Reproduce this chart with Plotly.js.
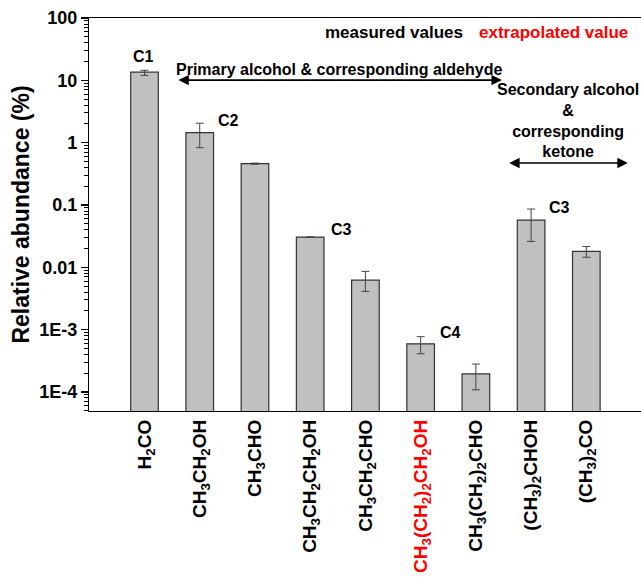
<!DOCTYPE html>
<html>
<head>
<meta charset="utf-8">
<script src="https://cdn.plot.ly/plotly-3.0.1.min.js"></script>
<style>html,body{margin:0;padding:0;background:#fff;}#chart{width:641px;height:582px;}</style>
</head>
<body>
<div id="chart"></div>
<script>
// ---- data ----
const categories = [
  'H<sub>2</sub>CO',
  'CH<sub>3</sub>CH<sub>2</sub>OH',
  'CH<sub>3</sub>CHO',
  'CH<sub>3</sub>CH<sub>2</sub>CH<sub>2</sub>OH',
  'CH<sub>3</sub>CH<sub>2</sub>CHO',
  '<span style="color:#ff0000">CH<sub>3</sub>(CH<sub>2</sub>)<sub>2</sub>CH<sub>2</sub>OH</span>',
  'CH<sub>3</sub>(CH<sub>2</sub>)<sub>2</sub>CHO',
  '(CH<sub>3</sub>)<sub>2</sub>CHOH',
  '(CH<sub>3</sub>)<sub>2</sub>CO'
];
const abundance = [13.5, 1.45, 0.46, 0.0305, 0.0062, 5.9e-4, 1.95e-4, 0.057, 0.018];
const errUpper  = [14.5, 2.05, 0.47, 0.0308, 0.0086, 7.7e-4, 2.8e-4, 0.086, 0.0215];
const errLower  = [12.0, 0.83, 0.45, 0.0302, 0.0041, 4.1e-4, 1.08e-4, 0.026, 0.0145];
const yTickVals = [1e-4, 1e-3, 0.01, 0.1, 1, 10, 100];
const yTickText = ['1E-4', '1E-3', '0.01', '0.1', '1', '10', '100'];

const xIdx = categories.map((c, i) => i);
const plus = abundance.map((v, i) => errUpper[i] - v);
const minus = abundance.map((v, i) => v - errLower[i]);

const FONT = 'Liberation Sans, Arial, sans-serif';

const trace = {
  type: 'bar',
  x: xIdx,
  y: abundance,
  width: 0.5,
  marker: {color: '#c0c0c0', line: {color: '#333333', width: 1.2}},
  error_y: {type: 'data', symmetric: false, array: plus, arrayminus: minus,
            color: '#444444', thickness: 1, width: 4},
  hoverinfo: 'none'
};

const arrowCommon = {xref: 'paper', yref: 'paper', text: '', showarrow: true,
  arrowside: 'end+start', arrowhead: 2, arrowsize: 1.3, arrowwidth: 1.6,
  arrowcolor: '#000', axref: 'pixel', ayref: 'pixel', ay: 0};

const bold = (size, color) => ({family: FONT, size: size, color: color || '#000', weight: 'bold'});
const label = (x, y, text, size, color) => ({xref: 'paper', yref: 'paper', x: x, y: y, text: text,
  showarrow: false, xanchor: 'center', yanchor: 'middle', font: bold(size, color)});

const layout = {
  width: 641, height: 582,
  margin: {l: 89, r: 0, t: 18, b: 171},
  paper_bgcolor: '#fff', plot_bgcolor: '#fff',
  showlegend: false,
  xaxis: {
    type: 'linear',
    range: [-1.005, 8.99],
    tickmode: 'array', tickvals: xIdx, ticktext: categories,
    tickangle: -90, ticks: '', showgrid: false, zeroline: false,
    showline: true, linecolor: '#000', linewidth: 1.2, mirror: true,
    tickfont: bold(19)
  },
  yaxis: {
    type: 'log',
    range: [Math.log10(4.94e-5), 2],
    tickmode: 'array', tickvals: yTickVals, ticktext: yTickText,
    ticks: 'outside', ticklen: 7, tickwidth: 1.2, tickcolor: '#000',
    minor: {dtick: 'D1', ticks: 'outside', ticklen: 4, tickcolor: '#000', tickwidth: 1, showgrid: false},
    showgrid: false, zeroline: false,
    showline: true, linecolor: '#000', linewidth: 1.2, mirror: true,
    tickfont: bold(18),
    title: {text: 'Relative abundance (%)', font: bold(23), standoff: 3}
  },
  annotations: [
    label(0.098, 0.903, 'C1', 16),
    label(0.252, 0.738, 'C2', 16),
    label(0.458, 0.463, 'C3', 16),
    label(0.654, 0.201, 'C4', 16),
    label(0.853, 0.519, 'C3', 16),
    label(0.5525, 0.962, 'measured values', 17),
    label(0.8406, 0.962, 'extrapolated value', 17, '#ff0000'),
    label(0.453, 0.870, 'Primary alcohol &amp; corresponding aldehyde', 16),
    label(0.868, 0.740, 'Secondary alcohol<br>&amp;<br>corresponding<br>ketone', 16),
    Object.assign({}, arrowCommon, {x: 0.748, y: 0.842, ax: -325}),
    Object.assign({}, arrowCommon, {x: 0.976, y: 0.631, ax: -120})
  ]
};

Plotly.newPlot('chart', [trace], layout, {displayModeBar: false, staticPlot: true});
</script>
</body>
</html>
